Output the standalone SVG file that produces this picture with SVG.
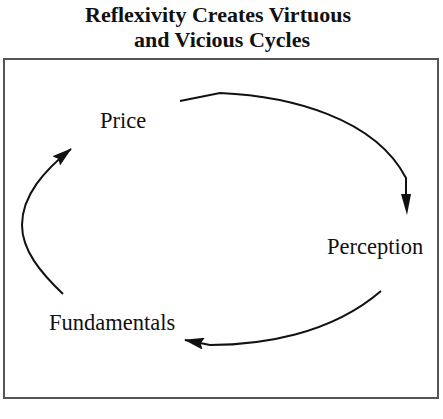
<svg xmlns="http://www.w3.org/2000/svg" width="443" height="419" viewBox="0 0 443 419">
<style>
.t{font-family:"Liberation Serif","Times New Roman",serif;fill:#111;}
.title{font-size:22px;font-weight:bold;text-anchor:middle;}
.lbl{font-size:22.5px;}
.c{fill:none;stroke:#111;stroke-width:2;}
</style>
<defs>
<marker id="ahL" markerWidth="20" markerHeight="12" refX="19" refY="6" orient="auto" markerUnits="userSpaceOnUse" viewBox="0 0 20 12">
<path d="M0,0 L20,6 L0,12 L3,6 Z" fill="#111"/>
</marker>
</defs>
<rect width="443" height="419" fill="#fff"/>
<g id="title">
<text class="t title" x="218" y="22">Reflexivity Creates Virtuous</text>
<text class="t title" x="222" y="47">and Vicious Cycles</text>
</g>
<rect id="frame" x="4" y="59" width="434" height="339" fill="none" stroke="#555" stroke-width="2"/>
<g id="price"><text class="t lbl" x="100" y="128">Price</text></g>
<g id="perception"><text class="t lbl" x="327" y="254">Perception</text></g>
<g id="fundamentals"><text class="t lbl" x="49" y="330">Fundamentals</text></g>
<g id="connectors">
<path class="c" d="M180,101 L220,93 C290,96 375,118 406,178 L406,195" />
<path d="M401,194 L411,194 L407,215 Z" fill="#111"/>
<path class="c" d="M381,291 C330,335 260,345 210,345 L185,340" marker-end="url(#ahL)"/>
<path class="c" d="M63,294 C40,272 22,250 22,225 C22,195 45,170 71,149" marker-end="url(#ahL)"/>
</g>
</svg>
